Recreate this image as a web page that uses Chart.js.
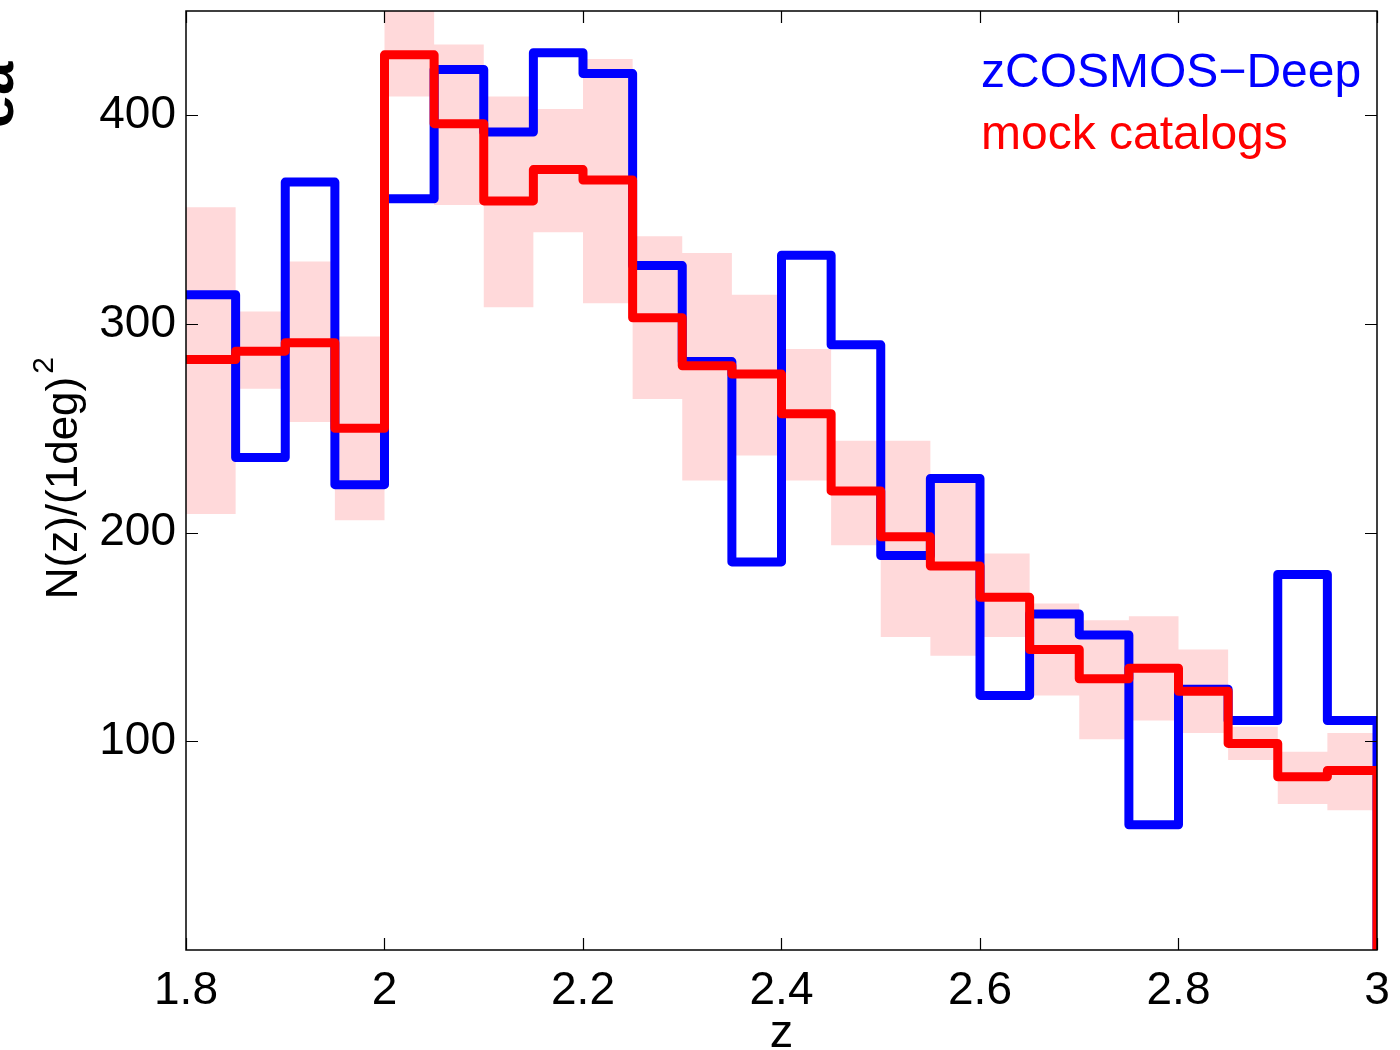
<!DOCTYPE html>
<html>
<head>
<meta charset="utf-8">
<script src="https://cdn.jsdelivr.net/npm/chart.js@4.4.1/dist/chart.umd.min.js"></script>
<style>
  html, body { margin: 0; padding: 0; background: #fff; }
  #wrap { width: 1400px; height: 1050px; }
</style>
</head>
<body>
<div id="wrap"><canvas id="nzChart" width="1400" height="1050"></canvas></div>
<script>
// bin left edges (z), bin width 0.05
let zBins = [1.80, 1.85, 1.90, 1.95, 2.00, 2.05, 2.10, 2.15, 2.20, 2.25, 2.30, 2.35,
             2.40, 2.45, 2.50, 2.55, 2.60, 2.65, 2.70, 2.75, 2.80, 2.85, 2.90, 2.95];
let zEnd = 3.0;

// zCOSMOS-Deep counts
let zcosmos = [314, 236, 368, 223, 360, 422, 392, 430, 420, 328, 282, 186,
               333, 290, 189, 226, 122, 161, 151, 60, 125, 110, 180, 110];
// mock catalogs mean
let mock = [283, 287, 291, 250, 429, 396, 359, 374, 369, 303, 280, 276,
            257, 220, 198, 184, 169, 144, 130, 135, 124, 99, 83, 86];
// mock scatter band
let mockHigh = [356, 306, 330, 294, 460, 434, 409, 403, 427, 342, 334, 314,
                288, 244, 244, 224, 190, 166, 158, 160, 144, 107, 95, 104];
let mockLow = [209, 269, 253, 206, 409, 357, 308, 344, 310, 264, 225, 237,
               225, 194, 150, 141, 150, 122, 101, 110, 104, 91, 70, 67];

let xTicks = [1.8, 2.0, 2.2, 2.4, 2.6, 2.8, 3.0];
let yTicks = [100, 200, 300, 400];

const FONT = "'Liberation Sans', Arial, Helvetica, sans-serif";

// stairs: each bin starts at its left edge, last one closes at zEnd
let stairs = (vals, closeToZero) => {
  let pts = zBins.map((z, i) => ({ x: z, y: vals[i] }));
  pts.push({ x: zEnd, y: vals[vals.length - 1] });
  if (closeToZero) pts.push({ x: zEnd, y: 0 });
  return pts;
};

let boxPlugin = {
  id: 'boxPlugin',
  afterDraw(chart) {
    let ctx = chart.ctx;
    let a = chart.chartArea;
    let xs = chart.scales.x, ys = chart.scales.y;
    ctx.save();
    ctx.strokeStyle = '#000';
    ctx.lineWidth = 1.5;
    ctx.strokeRect(a.left, a.top, a.right - a.left, a.bottom - a.top);
    ctx.lineWidth = 1.2;
    ctx.beginPath();
    let t = 12;
    xTicks.forEach(v => {
      let px = Math.round(xs.getPixelForValue(v)) + 0.5;
      ctx.moveTo(px, a.bottom); ctx.lineTo(px, a.bottom - t);
      ctx.moveTo(px, a.top); ctx.lineTo(px, a.top + t);
    });
    yTicks.forEach(v => {
      let py = Math.round(ys.getPixelForValue(v)) + 0.5;
      ctx.moveTo(a.left, py); ctx.lineTo(a.left + t, py);
      ctx.moveTo(a.right, py); ctx.lineTo(a.right - t, py);
    });
    ctx.stroke();

    // legend text
    ctx.font = '48px ' + FONT;
    ctx.textAlign = 'left';
    ctx.textBaseline = 'alphabetic';
    ctx.fillStyle = '#0000ff';
    ctx.fillText('zCOSMOS\u2212Deep', 981, 87);
    ctx.fillStyle = '#ff0000';
    ctx.fillText('mock catalogs', 981, 149);

    // axis titles
    ctx.fillStyle = '#000';
    ctx.font = '47px ' + FONT;
    ctx.textAlign = 'center';
    ctx.fillText('z', (a.left + a.right) / 2, 1047);

    ctx.save();
    ctx.translate(77, 478);
    ctx.rotate(-Math.PI / 2);
    ctx.font = '44px ' + FONT;
    ctx.textAlign = 'center';
    ctx.fillText('N(z)/(1deg)', -10, 0);
    let w = ctx.measureText('N(z)/(1deg)').width;
    ctx.font = '30px ' + FONT;
    ctx.textAlign = 'left';
    ctx.fillText('2', -10 + w / 2 + 3, -24);
    ctx.restore();

    // clipped panel label at the far left
    ctx.save();
    ctx.translate(13, 95);
    ctx.rotate(-Math.PI / 2);
    ctx.font = 'bold 60px ' + FONT;
    ctx.textAlign = 'center';
    ctx.fillText('ea', 0, 0);
    ctx.restore();
    ctx.restore();
  }
};

let lineDs = (label, vals, color, order) => ({
  label: label,
  data: stairs(vals, true),
  stepped: 'before',
  borderColor: color,
  borderWidth: 9,
  borderJoinStyle: 'round',
  pointRadius: 0,
  fill: false,
  clip: 0,
  order: order
});

let nzChart = new Chart(document.getElementById('nzChart').getContext('2d'), {
  type: 'line',
  data: {
    datasets: [
      {
        label: 'band low',
        data: stairs(mockLow, false),
        stepped: 'before',
        borderWidth: 0,
        borderColor: 'rgba(0,0,0,0)',
        pointRadius: 0,
        fill: false,
        clip: 0,
        order: 3
      },
      {
        label: 'band high',
        data: stairs(mockHigh, false),
        stepped: 'before',
        borderWidth: 0,
        borderColor: 'rgba(0,0,0,0)',
        backgroundColor: '#ffd9da',
        pointRadius: 0,
        fill: '-1',
        clip: 0,
        order: 2
      },
      lineDs('zCOSMOS\u2212Deep', zcosmos, '#0000ff', 1),
      lineDs('mock catalogs', mock, '#ff0000', 0)
    ]
  },
  options: {
    responsive: false,
    animation: false,
    devicePixelRatio: 1,
    layout: { padding: { top: 11, right: 23, bottom: 0, left: 0 } },
    plugins: { legend: { display: false }, tooltip: { enabled: false } },
    scales: {
      x: {
        type: 'linear',
        min: 1.8,
        max: 3.0,
        grid: { display: false },
        border: { display: false },
        afterBuildTicks: (s) => { s.ticks = xTicks.map(v => ({ value: v })); },
        afterFit: (s) => { s.height = 100; s.paddingLeft = 0; s.paddingRight = 0; },
        ticks: {
          color: '#000',
          font: { family: FONT, size: 46 },
          padding: 6,
          maxRotation: 0,
          callback: (v) => String(Math.round(v * 10) / 10)
        }
      },
      y: {
        min: 0,
        max: 450,
        grid: { display: false },
        border: { display: false },
        afterBuildTicks: (s) => { s.ticks = yTicks.map(v => ({ value: v })); },
        afterFit: (s) => { s.width = 186; s.paddingTop = 0; s.paddingBottom = 0; },
        ticks: {
          color: '#000',
          font: { family: FONT, size: 46 },
          padding: 2
        }
      }
    }
  },
  plugins: [boxPlugin]
});
</script>
</body>
</html>
